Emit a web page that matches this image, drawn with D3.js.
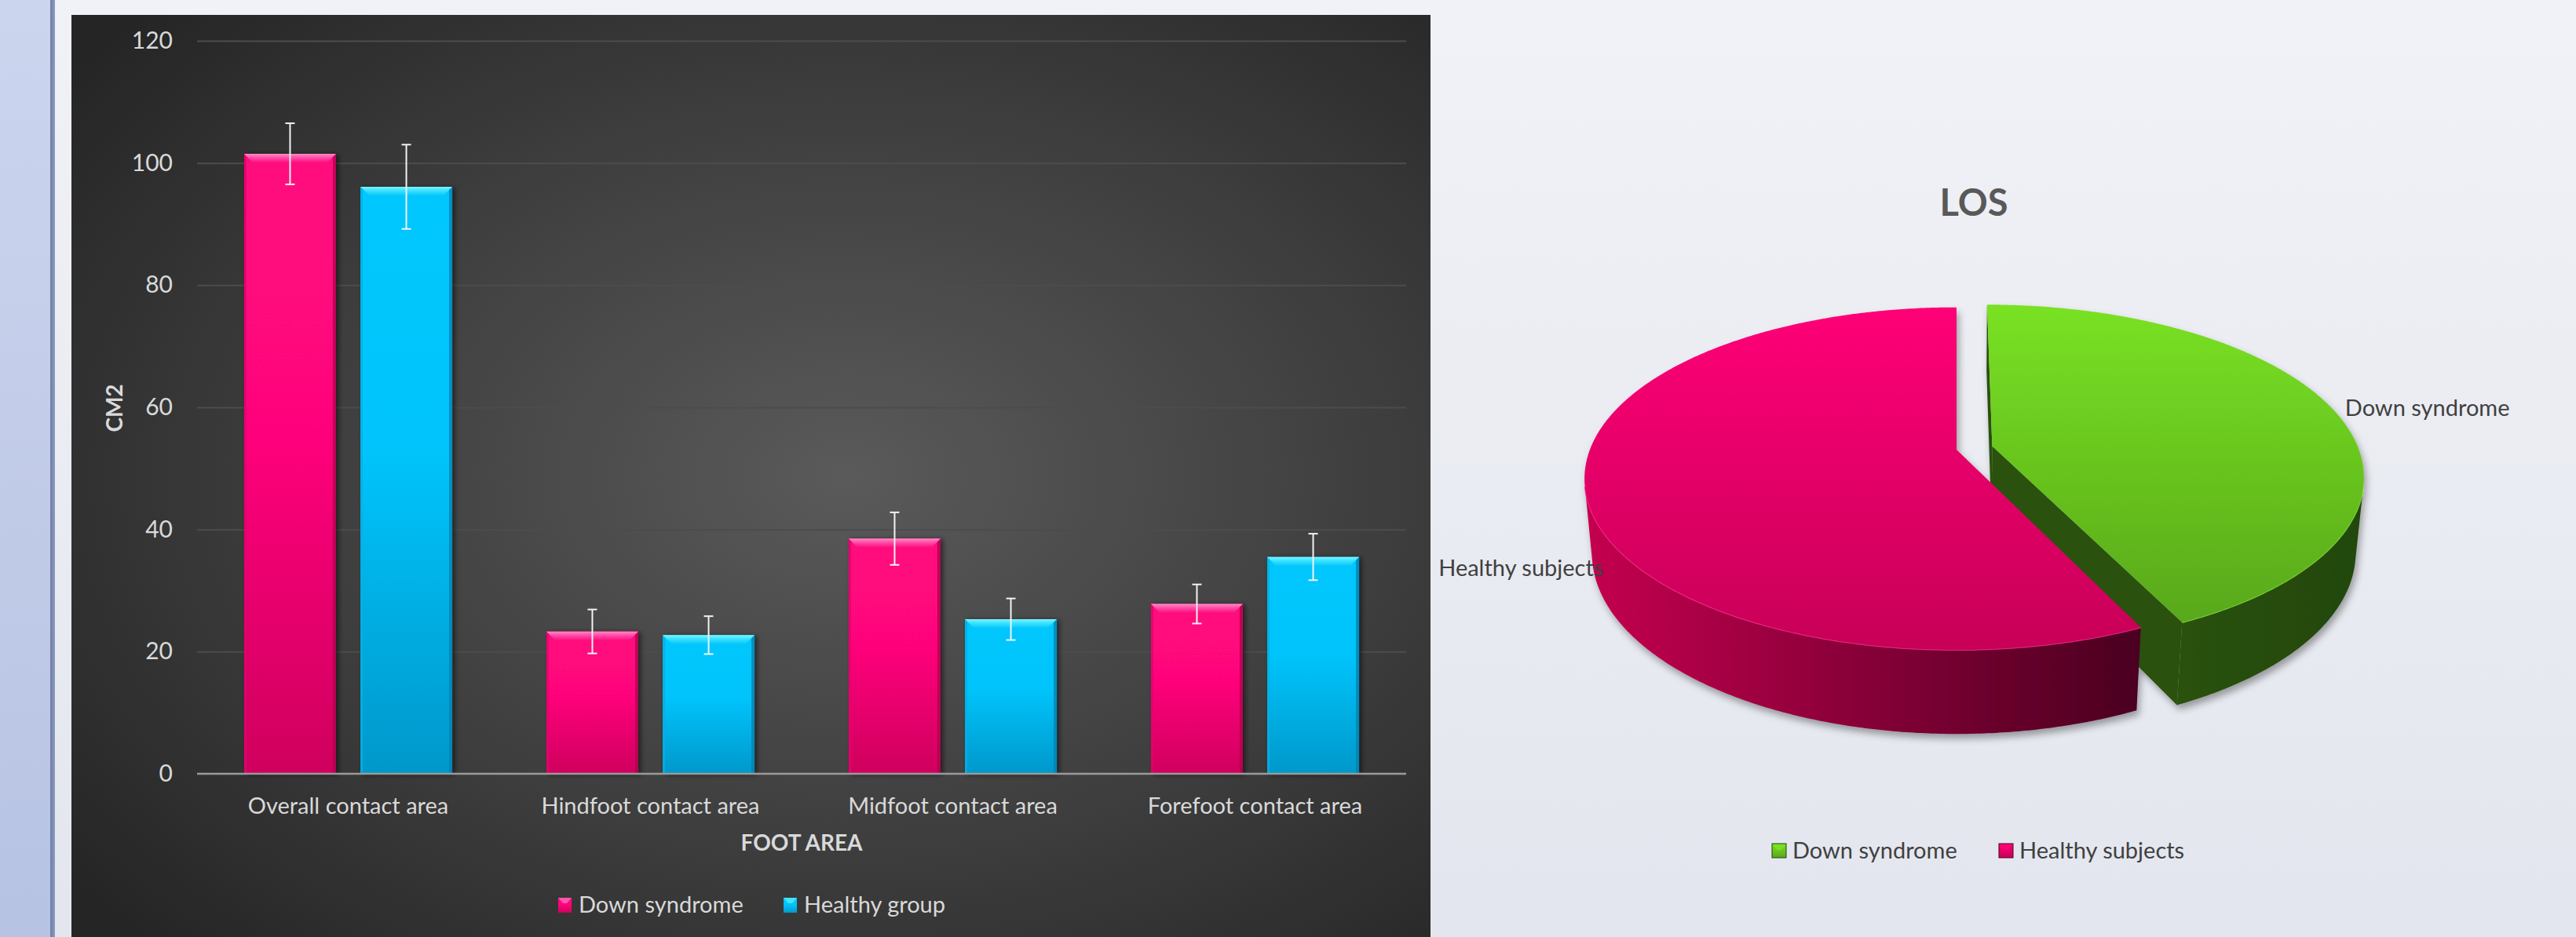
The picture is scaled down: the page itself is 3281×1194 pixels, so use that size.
<!DOCTYPE html>
<html>
<head>
<meta charset="utf-8">
<script src="https://cdn.jsdelivr.net/npm/d3@7"></script>
<style>
  html, body { margin: 0; padding: 0; background: #eef0f6; }
  svg { display: block; }
</style>
</head>
<body>
<svg id="chart" width="3281" height="1194"></svg>
<script>
// ---- Bar chart data: foot contact area (cm²) ----
const categories = ["Overall contact area", "Hindfoot contact area", "Midfoot contact area", "Forefoot contact area"];
const seriesNames = ["Down syndrome", "Healthy group"];
const downSyndrome   = [101.5, 23.3, 38.5, 27.8];
const downSyndromeSD = [5.0, 3.6, 4.3, 3.2];
const healthyGroup   = [96.1, 22.7, 25.3, 35.5];
const healthyGroupSD = [6.9, 3.1, 3.4, 3.8];
const yTicks = [0, 20, 40, 60, 80, 100, 120];
const yTitle = "CM2";
const xTitle = "FOOT AREA";

// ---- Pie chart data: LOS ----
const pieTitle = "LOS";
const pieLabels = ["Down syndrome", "Healthy subjects"];
const pieValues = [43, 57];
const pieExplode = [0.1, 0];

const W = 3281, H = 1194;
const svg = d3.select("#chart");
const defs = svg.append("defs");

function linGrad(id, x1, y1, x2, y2, stops, units) {
  const g = defs.append("linearGradient").attr("id", id)
    .attr("x1", x1).attr("y1", y1).attr("x2", x2).attr("y2", y2);
  if (units) g.attr("gradientUnits", units);
  stops.forEach(([o, c]) => g.append("stop").attr("offset", o).attr("stop-color", c));
  return g;
}

// page background and left band
linGrad("pageBg", 0, 0, 0, 1, [[0, "#f1f2f7"], [1, "#e3e6ee"]]);
linGrad("sideBand", 0, 0, 0, 1, [[0, "#ccd5ee"], [1, "#b7c3e3"]]);
linGrad("sideLine", 0, 0, 1, 0, [[0, "#6c7ca4"], [1, "#8f9dc2"]]);
svg.append("rect").attr("width", W).attr("height", H).attr("fill", "url(#pageBg)");
svg.append("rect").attr("x", 0).attr("y", 0).attr("width", 64).attr("height", H).attr("fill", "url(#sideBand)");
svg.append("rect").attr("x", 64).attr("y", 0).attr("width", 6).attr("height", H).attr("fill", "url(#sideLine)");

// ================= BAR CHART =================
const panel = { x: 91, y: 19, w: 1731, h: H - 19 };
const rg = defs.append("radialGradient").attr("id", "panelBg")
  .attr("cx", 0.57).attr("cy", 0.5).attr("r", 0.72)
  .attr("fx", 0.57).attr("fy", 0.5);
rg.append("stop").attr("offset", 0).attr("stop-color", "#5a5a5a");
rg.append("stop").attr("offset", 0.55).attr("stop-color", "#3e3e3e");
rg.append("stop").attr("offset", 1).attr("stop-color", "#252525");
svg.append("rect").attr("x", panel.x).attr("y", panel.y)
  .attr("width", panel.w).attr("height", panel.h).attr("fill", "url(#panelBg)");

const plot = { left: 251, right: 1791, top: 52, bottom: 986 };
const y = d3.scaleLinear().domain([0, 120]).range([plot.bottom, plot.top]);
const x0 = d3.scaleBand().domain(categories).range([plot.left, plot.right]).padding(0);
const x1 = d3.scaleBand().domain(seriesNames).range([0, x0.bandwidth()])
  .paddingInner(0.21).paddingOuter(0.405);

const font = "Lato, 'Open Sans', 'DejaVu Sans', sans-serif";
const light = "#d9d9d9";

// gridlines + y tick labels
const yAxis = svg.append("g").attr("transform", `translate(${plot.left},0)`)
  .call(d3.axisLeft(y).tickValues(yTicks).tickSize(-(plot.right - plot.left)).tickPadding(31));
yAxis.select(".domain").remove();
yAxis.selectAll(".tick line").attr("stroke", "#4c4c4c").attr("stroke-width", 2)
  .attr("display", d => d === 0 ? "none" : null);
yAxis.selectAll(".tick text").attr("fill", light).style("font-family", font).style("font-size", "30px");

// category labels
const xAxis = svg.append("g").attr("transform", `translate(0,${plot.bottom})`)
  .call(d3.axisBottom(x0).tickSize(0).tickPadding(30));
xAxis.select(".domain").remove();
xAxis.selectAll(".tick text").attr("fill", light).style("font-family", font).style("font-size", "29px");

// bar gradients
const palette = {
  "Down syndrome": { top: "#ff087d", mid: "#ff067b", bot: "#cf005e", bevel: "#ff55ac", bevelHi: "#ff8cc6", edgeL: "#e6006e", edgeR: "#b2004f" },
  "Healthy group": { top: "#03c7fd", mid: "#02c4fb", bot: "#0598cb", bevel: "#3fe6ff", bevelHi: "#7ff2ff", edgeL: "#00b2e6", edgeR: "#0082b0" }
};
seriesNames.forEach((s, i) => {
  const p = palette[s];
  linGrad("barFill" + i, 0, 0, 0, 1, [[0, p.top], [0.45, p.mid], [1, p.bot]]);
  linGrad("barBevel" + i, 0, 0, 0, 1, [[0, p.bevelHi], [0.35, p.bevel], [1, p.mid]]);
});

const shadow = defs.append("filter").attr("id", "barShadow")
  .attr("x", "-20%").attr("y", "-5%").attr("width", "140%").attr("height", "110%");
shadow.append("feDropShadow").attr("dx", 3).attr("dy", 1).attr("stdDeviation", 3)
  .attr("flood-color", "#000").attr("flood-opacity", 0.55);

const barData = [];
categories.forEach((c, ci) => {
  barData.push({ cat: c, s: seriesNames[0], si: 0, v: downSyndrome[ci], sd: downSyndromeSD[ci] });
  barData.push({ cat: c, s: seriesNames[1], si: 1, v: healthyGroup[ci], sd: healthyGroupSD[ci] });
});

const bw = x1.bandwidth();
const bevel = 12;
const bars = svg.append("g").selectAll("g.bar").data(barData).join("g")
  .attr("class", "bar")
  .attr("transform", d => `translate(${x0(d.cat) + x1(d.s)},${y(d.v)})`);
bars.append("rect").attr("width", bw).attr("height", d => y(0) - y(d.v))
  .attr("fill", d => `url(#barFill${d.si})`).attr("filter", "url(#barShadow)");
bars.append("rect").attr("width", 3).attr("height", d => y(0) - y(d.v))
  .attr("fill", d => palette[d.s].edgeL).attr("opacity", 0.8);
bars.append("rect").attr("x", bw - 4).attr("width", 4).attr("height", d => y(0) - y(d.v))
  .attr("fill", d => palette[d.s].edgeR).attr("opacity", 0.8);
bars.append("path")
  .attr("d", `M0,0 L${bw},0 L${bw - bevel},${bevel} L${bevel},${bevel} Z`)
  .attr("fill", d => `url(#barBevel${d.si})`);

// error bars
const eb = svg.append("g").attr("stroke", "#f2f2f2").attr("stroke-width", 2).attr("fill", "none");
barData.forEach(d => {
  const cx = x0(d.cat) + x1(d.s) + bw / 2;
  const yt = y(d.v + d.sd), yb = y(d.v - d.sd);
  eb.append("line").attr("x1", cx).attr("x2", cx).attr("y1", yt).attr("y2", yb);
  eb.append("line").attr("x1", cx - 6).attr("x2", cx + 6).attr("y1", yt).attr("y2", yt);
  eb.append("line").attr("x1", cx - 6).attr("x2", cx + 6).attr("y1", yb).attr("y2", yb);
});

// baseline
svg.append("line").attr("x1", plot.left).attr("x2", plot.right)
  .attr("y1", y(0)).attr("y2", y(0)).attr("stroke", "#9a9a9a").attr("stroke-width", 2.5);

// axis titles
svg.append("text").attr("transform", `translate(156,${(plot.top + plot.bottom) / 2 + 1}) rotate(-90)`)
  .attr("text-anchor", "middle").attr("fill", light).style("font-family", font)
  .style("font-size", "28px").style("font-weight", "bold").text(yTitle);
svg.append("text").attr("x", (plot.left + plot.right) / 2).attr("y", 1084)
  .attr("text-anchor", "middle").attr("fill", light).style("font-family", font)
  .style("font-size", "28px").style("font-weight", "bold").text(xTitle);

// legend
const legendX = [711, 998];
seriesNames.forEach((s, i) => {
  const g = svg.append("g").attr("transform", `translate(${legendX[i]},1144)`);
  g.append("rect").attr("width", 17).attr("height", 19).attr("fill", `url(#barFill${i})`);
  g.append("path").attr("d", "M0,0 L17,0 L11,7 L6,7 Z").attr("fill", palette[s].bevel);
  g.append("text").attr("x", 26).attr("y", 19).attr("fill", light)
    .style("font-family", font).style("font-size", "29px").text(s);
});

// ================= 3D PIE =================
const P = { cx: 2492, cy: 573, R: 467, tilt: 27 * Math.PI / 180, dist: 2463, depth: 108 };
const sinA = Math.sin(P.tilt), cosA = Math.cos(P.tilt);
const cam = [0, P.dist * sinA, P.dist * cosA];
function project(X, Yv, Z) {
  const u = Yv * cosA - Z * sinA;
  const w = Z * cosA + Yv * sinA;
  const s = P.dist / (P.dist - w);
  return [P.cx + X * s, P.cy - u * s];
}

svg.append("text").attr("x", 2514).attr("y", 275).attr("text-anchor", "middle")
  .attr("fill", "#595959").style("font-family", font).style("font-size", "47px")
  .style("font-weight", "bold").text(pieTitle);

const pieColors = [
  { topA: "#79e223", topB: "#58a71a", wall: ["#2b5410", "#234709"], face: "#2a5110", rim: "#8cec3c" },
  { topA: "#ff0077", topB: "#c70057", wall: ["#c4004f", "#4a0020"], face: "#7a0035", rim: "#ff3296" }
];
linGrad("pieTop0", 0, 387, 0, 800, [[0, pieColors[0].topA], [1, pieColors[0].topB]], "userSpaceOnUse");
linGrad("pieTop1", 0, 391, 0, 830, [[0, pieColors[1].topA], [1, pieColors[1].topB]], "userSpaceOnUse");
linGrad("pieWall0", 2720, 0, 3010, 0, [[0, pieColors[0].wall[0]], [1, pieColors[0].wall[1]]], "userSpaceOnUse");
linGrad("pieWall1", 2020, 0, 2725, 0, [[0, pieColors[1].wall[0]], [1, pieColors[1].wall[1]]], "userSpaceOnUse");
linGrad("legTop0", 0, 0, 0, 1, [[0, pieColors[0].topA], [1, pieColors[0].topB]]);
linGrad("legTop1", 0, 0, 0, 1, [[0, pieColors[1].topA], [1, pieColors[1].topB]]);

const pieShadow = defs.append("filter").attr("id", "pieShadow")
  .attr("x", "-10%").attr("y", "-10%").attr("width", "120%").attr("height", "125%");
pieShadow.append("feDropShadow").attr("dx", 3).attr("dy", 6).attr("stdDeviation", 5)
  .attr("flood-color", "#000").attr("flood-opacity", 0.35);

const arcs = d3.pie().sort(null).value(d => d)(pieValues);
const slices = arcs.map((a, i) => {
  const mid = (a.startAngle + a.endAngle) / 2;
  const off = pieExplode[i] * P.R;
  return { a, i, mid, ex: off * Math.sin(mid), ez: -off * Math.cos(mid) };
});
const rimPt = (sl, t, Yv, r = P.R) => project(r * Math.sin(t) + sl.ex, Yv, -r * Math.cos(t) + sl.ez);
const ctrPt = (sl, Yv) => project(sl.ex, Yv, sl.ez);
function sees(point, normal) {
  const v = [cam[0] - point[0], cam[1] - point[1], cam[2] - point[2]];
  return v[0] * normal[0] + v[1] * normal[1] + v[2] * normal[2] > 0;
}
// far slices first
slices.sort((p, q) => (-P.R * Math.cos(p.mid) + p.ez) - (-P.R * Math.cos(q.mid) + q.ez));

const pieG = svg.append("g").attr("filter", "url(#pieShadow)");
const line = d3.line();
slices.forEach(sl => {
  const g = pieG.append("g");
  const col = pieColors[sl.i];
  const t0 = sl.a.startAngle, t1 = sl.a.endAngle;
  const Hd = -P.depth;
  // radial cut faces
  [[t0, -1], [t1, 1]].forEach(([t, sgn]) => {
    const n = [sgn * Math.cos(t), 0, sgn * Math.sin(t)];
    const pt = [sl.ex + 0.5 * P.R * Math.sin(t), -P.depth / 2, sl.ez - 0.5 * P.R * Math.cos(t)];
    if (sees(pt, n) && (t1 - t0) < 2 * Math.PI - 1e-6) {
      g.append("path").attr("d", line([ctrPt(sl, 0), rimPt(sl, t, 0), rimPt(sl, t, Hd), ctrPt(sl, Hd)]) + "Z")
        .attr("fill", col.face);
    }
  });
  // outer wall, visible runs only
  const steps = Math.ceil((t1 - t0) / (Math.PI / 360));
  let run = [];
  const runs = [];
  for (let k = 0; k <= steps; k++) {
    const t = t0 + (t1 - t0) * k / steps;
    const pt = [P.R * Math.sin(t) + sl.ex, 0, -P.R * Math.cos(t) + sl.ez];
    if (sees(pt, [Math.sin(t), 0, -Math.cos(t)])) run.push(t);
    else if (run.length) { runs.push(run); run = []; }
  }
  if (run.length) runs.push(run);
  runs.forEach(r => {
    const topPts = r.map(t => rimPt(sl, t, 0));
    const botPts = r.map(t => rimPt(sl, t, Hd)).reverse();
    g.append("path").attr("d", line(topPts.concat(botPts)) + "Z").attr("fill", `url(#pieWall${sl.i})`);
    g.append("path").attr("d", line(topPts)).attr("fill", "none")
      .attr("stroke", col.rim).attr("stroke-width", 2).attr("opacity", 0.8);
  });
  // top face
  const topArc = d3.range(0, steps + 1).map(k => rimPt(sl, t0 + (t1 - t0) * k / steps, 0));
  g.append("path").attr("d", line([ctrPt(sl, 0)].concat(topArc)) + "Z").attr("fill", `url(#pieTop${sl.i})`);
});

// slice labels placed outside the rim at each slice's middle angle
const labelStyle = sel => sel.attr("fill", "#404040").style("font-family", font).style("font-size", "29px");
slices.forEach(sl => {
  if (sl.i === 0) {
    const [lx, ly] = rimPt(sl, sl.mid, 0);
    labelStyle(svg.append("text").attr("x", lx + 13).attr("y", ly + 6).text(pieLabels[sl.i]));
  } else {
    const [lx, ly] = rimPt(sl, sl.mid, -P.depth);
    labelStyle(svg.append("text").attr("x", lx + 14).attr("y", ly + 16)
      .attr("text-anchor", "end").text(pieLabels[sl.i]));
  }
});

// pie legend
const pieLegendX = [2257, 2546];
pieLabels.forEach((lab, i) => {
  const g = svg.append("g").attr("transform", `translate(${pieLegendX[i]},1075)`);
  g.append("rect").attr("width", 18).attr("height", 18).attr("fill", `url(#legTop${i})`)
    .attr("stroke", pieColors[i].wall[1]).attr("stroke-width", 1);
  g.append("path").attr("d", "M1,1 L17,1 L12,8 L6,8 Z").attr("fill", pieColors[i].topA).attr("opacity", 0.9);
  labelStyle(g.append("text").attr("x", 26).attr("y", 19).text(lab));
});
</script>
</body>
</html>
